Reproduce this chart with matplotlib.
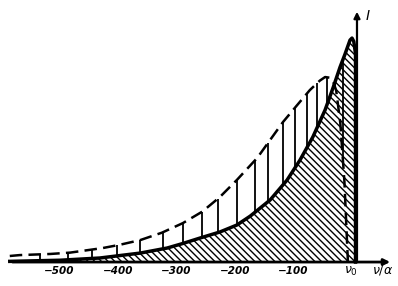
import numpy as np
from matplotlib import pyplot as plt

plt.rcParams['hatch.linewidth'] = 1.0

# solid curve (line shape cut off at nu0), x in nu/alpha
nu_solid = [-585, -568, -499, -431, -362, -316, -289, -260, -226, -197, -174, -140, -111,
            -89, -67, -46, -32, -20.5, -12, -3.4, 0, 3, 6, 6]
I_solid = [0.003, 0.004, 0.008, 0.018, 0.040, 0.0625, 0.083, 0.107, 0.134, 0.165, 0.205, 0.277, 0.366,
           0.455, 0.558, 0.679, 0.781, 0.87, 0.928, 0.991, 1.0, 0.985, 0.93, 0.0]

# dashed curve (broadened)
nu_dash = [-585, -568, -516, -482, -426, -397, -362, -325, -289, -256, -226, -197, -162, -140,
           -118, -94, -72, -55, -46, -38, -32, -27, -20, -13, -7]
I_dash = [0.027, 0.031, 0.036, 0.042, 0.0625, 0.077, 0.098, 0.131, 0.174, 0.225, 0.29, 0.366, 0.465, 0.545,
          0.625, 0.70, 0.768, 0.81, 0.826, 0.823, 0.805, 0.765, 0.62, 0.36, 0.0]

# positions of the vertical lines between the curves
nu_vl = [-533, -485, -444, -402, -362, -323, -289, -256, -229, -197, -166, -144, -118, -97, -77, -60, -43, -29, -15]

ticks = [-500, -400, -300, -200, -100]
tick_labels = ['\u2212500', '\u2212400', '\u2212300', '\u2212200', '\u2212100']

fig = plt.figure(figsize=(3.98, 2.86), dpi=100)
ax = fig.add_axes([0, 0, 1, 1])
ax.set_xlim(-601.7, 78.6)
ax.set_ylim(-0.107, 1.17)
ax.axis('off')

# vertical lines from solid curve up to dashed curve
sol = np.interp(nu_vl, nu_solid[:-1], I_solid[:-1])
das = np.interp(nu_vl, nu_dash, I_dash)
ax.vlines(nu_vl, np.minimum(sol, das), np.maximum(sol, das), color='k', lw=1.3, zorder=2)

ax.plot(nu_dash, I_dash, color='k', lw=1.8, dashes=(5, 2.5), zorder=2)

ax.fill_between(nu_solid, 0, I_solid, facecolor='none', edgecolor='k', hatch='\\\\\\\\\\', lw=0, zorder=3)
ax.plot(nu_solid, I_solid, color='k', lw=2.5, zorder=4)

# axes with arrows
ax.annotate('', xy=(70, 0), xytext=(-585, 0),
            arrowprops=dict(arrowstyle='-|>', color='k', lw=2.0, mutation_scale=9), zorder=5)
ax.annotate('', xy=(8.5, 1.13), xytext=(8.5, -0.005),
            arrowprops=dict(arrowstyle='-|>', color='k', lw=1.6, mutation_scale=9), zorder=5)

for t, lab in zip(ticks, tick_labels):
    ax.text(t, -0.038, lab, ha='center', va='center', fontsize=7.5,
            fontstyle='italic', fontweight='bold')
ax.text(-2, -0.04, r'$\nu_0$', ha='center', va='center', fontsize=9)
ax.text(53, -0.036, r'$\nu/\alpha$', ha='center', va='center', fontsize=9)
ax.text(27, 1.1, r'$I$', ha='center', va='center', fontsize=10)

fig.savefig('out.png', dpi=100)
